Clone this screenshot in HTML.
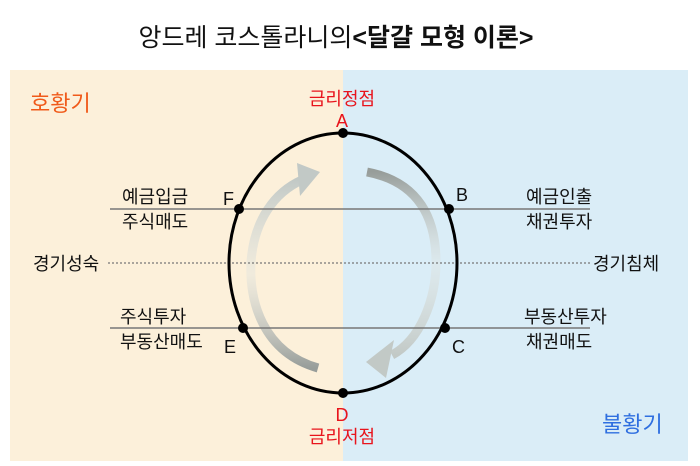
<!DOCTYPE html>
<html><head><meta charset="utf-8"><style>
body{margin:0;width:700px;height:461px;background:#fff;overflow:hidden;font-family:"Liberation Sans","Noto Sans CJK KR",sans-serif}
</style></head><body>
<svg width="700" height="461" xmlns="http://www.w3.org/2000/svg" style="font-family:'Liberation Sans','Noto Sans CJK KR',sans-serif">
<defs>
<linearGradient id="gl" x1="0" y1="0" x2="0" y2="1"><stop offset="0" stop-color="#c2c9c6"/><stop offset="0.5" stop-color="#dfe3df" stop-opacity="0.4"/><stop offset="1" stop-color="#979d9a"/></linearGradient>
<linearGradient id="gr" x1="0" y1="0" x2="0" y2="1"><stop offset="0" stop-color="#979d9a"/><stop offset="0.5" stop-color="#dfe3df" stop-opacity="0.4"/><stop offset="1" stop-color="#c2c9c6"/></linearGradient>
</defs>
<rect x="10" y="70" width="333" height="391" fill="#fcf0da"/>
<rect x="343" y="70" width="345" height="391" fill="#daedf7"/>
<text x="336" y="46" font-size="25" text-anchor="middle" fill="#111">앙드레 코스톨라니의<tspan font-weight="bold">&lt;달걀 모형 이론&gt;</tspan></text>
<text x="30" y="111" font-size="22" fill="#f05a1a">호황기</text>
<text x="602" y="432" font-size="22" fill="#2f6fe0">불황기</text>
<path d="M318 368 C262 352 249 300 251 262 C254 220 275 192 302 180" fill="none" stroke="url(#gl)" stroke-width="9"/>
<polygon points="297,163 320,172 300,196" fill="#c2c9c6"/>
<path d="M367 172 C420 182 436 220 436 262 C436 300 420 340 392 355" fill="none" stroke="url(#gr)" stroke-width="9"/>
<polygon points="366,362 394,340 386,378" fill="#c2c9c6"/>
<line x1="110" y1="209" x2="590" y2="209" stroke="#777" stroke-width="1.5"/>
<line x1="110" y1="328" x2="590" y2="328" stroke="#777" stroke-width="1.5"/>
<line x1="108" y1="263" x2="590" y2="263" stroke="#777" stroke-width="1.2" stroke-dasharray="2,2"/>
<ellipse cx="343" cy="263" rx="114" ry="130" fill="none" stroke="#000" stroke-width="3"/>
<g fill="#000"><circle cx="343" cy="133" r="5"/><circle cx="343" cy="393" r="5"/><circle cx="239" cy="209" r="5"/><circle cx="449" cy="209" r="5"/><circle cx="243" cy="328" r="5"/><circle cx="445" cy="328" r="5"/></g>
<g font-size="18" fill="#e8141c" text-anchor="middle"><text x="342" y="105">금리정점</text><text x="342" y="127">A</text><text x="342" y="421">D</text><text x="342" y="443">금리저점</text></g>
<g font-size="18" fill="#111"><text x="223" y="205">F</text><text x="456" y="201">B</text><text x="224" y="353">E</text><text x="452" y="353">C</text>
<text x="122" y="203">예금입금</text><text x="122" y="228">주식매도</text><text x="33" y="270">경기성숙</text><text x="120" y="323">주식투자</text><text x="120" y="348">부동산매도</text>
<text x="526" y="203">예금인출</text><text x="526" y="228">채권투자</text><text x="593" y="270">경기침체</text><text x="524" y="323">부동산투자</text><text x="526" y="348">채권매도</text></g>
</svg>
</body></html>
